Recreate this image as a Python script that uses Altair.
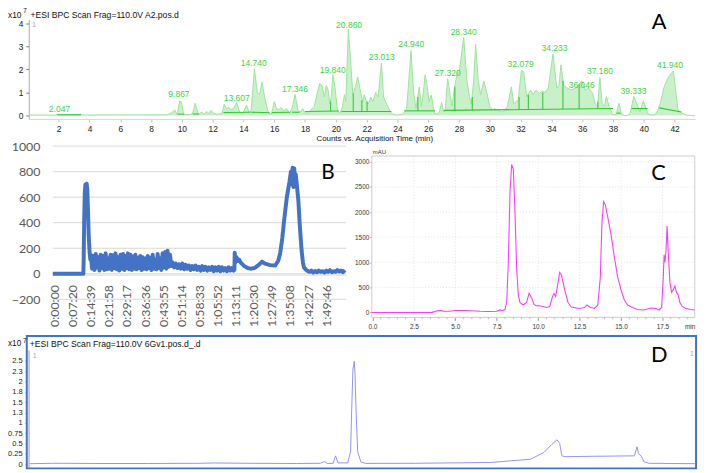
import json
import altair as alt
import pandas as pd

# ---------------- Panel A : ESI BPC chromatogram (x10^7 counts vs min) ----------------
a_points = [
    (0.055, 0.02), (1.8, 0.02), (1.9, 0.03), (3.4, 0.03), (3.5, 0.02), (9.0, 0.03), (9.3, 0.1),
    (9.55, 0.24), (9.65, 0.08), (9.72, 0.15), (9.86, 0.64), (9.97, 0.58), (10.1, 0.1), (10.18, 0.03),
    (10.6, 0.04), (10.75, 0.2), (10.86, 0.53), (10.98, 0.25), (11.1, 0.05), (11.3, 0.15), (11.45, 0.05),
    (11.6, 0.18), (11.75, 0.08), (11.9, 0.22), (12.05, 0.1), (12.3, 0.05), (12.6, 0.08), (12.75, 0.49),
    (12.9, 0.3), (13.05, 0.35), (13.2, 0.25), (13.35, 0.3), (13.56, 0.56), (13.75, 0.15), (13.95, 0.05),
    (14.1, 0.3), (14.2, 0.45), (14.35, 0.15), (14.5, 0.2), (14.71, 2.03), (14.9, 1.0), (15.05, 0.9),
    (15.2, 1.45), (15.4, 0.7), (15.6, 0.15), (15.8, 0.05), (15.9, 0.3), (16.0, 0.6), (16.15, 0.3),
    (16.3, 0.25), (16.45, 0.35), (16.6, 0.2), (16.8, 0.3), (17.0, 0.1), (17.15, 0.3), (17.35, 0.91),
    (17.55, 0.2), (17.7, 0.15), (17.85, 0.3), (18.0, 0.1), (18.2, 0.12), (18.4, 0.25), (18.6, 0.4),
    (18.8, 1.0), (18.95, 1.39), (19.1, 1.3), (19.25, 0.8), (19.38, 1.3), (19.5, 1.1), (19.6, 0.5),
    (19.7, 0.8), (19.81, 1.77), (19.95, 1.2), (20.1, 0.2), (20.25, 0.1), (20.4, 0.3), (20.56, 0.9),
    (20.65, 0.6), (20.81, 3.75), (20.95, 2.5), (21.1, 0.9), (21.25, 1.2), (21.42, 1.67), (21.55, 1.2),
    (21.74, 0.6), (21.85, 0.9), (21.95, 0.7), (22.1, 0.5), (22.27, 0.8), (22.4, 0.6), (22.59, 1.0),
    (22.75, 0.8), (22.96, 2.27), (23.1, 0.8), (23.3, 0.5), (23.55, 0.15), (23.7, 0.05), (24.0, 0.02),
    (24.3, 0.05), (24.45, 0.12), (24.6, 0.3), (24.88, 2.82), (25.05, 1.0), (25.2, 0.3), (25.42, 1.24),
    (25.55, 0.4), (25.65, 0.8), (25.8, 1.77), (25.95, 1.2), (26.05, 0.6), (26.19, 0.89), (26.3, 0.5),
    (26.4, 0.1), (26.6, 0.05), (26.75, 0.2), (26.87, 0.57), (27.0, 0.15), (27.1, 0.2), (27.26, 1.6),
    (27.4, 1.0), (27.55, 0.4), (27.7, 1.2), (27.9, 1.9), (28.0, 1.8), (28.3, 3.39), (28.5, 1.6),
    (28.65, 0.9), (28.8, 0.5), (28.95, 1.5), (29.08, 3.1), (29.25, 1.5), (29.4, 0.9), (29.61, 1.5),
    (29.8, 1.0), (30.0, 0.4), (30.2, 0.25), (30.5, 0.25), (30.8, 0.15), (31.0, 0.25), (31.15, 0.4),
    (31.4, 1.24), (31.55, 0.5), (31.7, 0.6), (31.85, 0.7), (32.05, 1.96), (32.2, 1.9), (32.4, 0.8),
    (32.65, 1.1), (32.8, 0.9), (33.0, 1.1), (33.2, 0.95), (33.4, 1.05), (33.6, 1.0), (33.8, 1.2),
    (34.1, 2.67), (34.35, 1.2), (34.5, 1.3), (34.62, 2.2), (34.8, 1.3), (35.0, 1.2), (35.3, 1.1),
    (35.6, 1.2), (35.97, 1.5), (36.2, 1.1), (36.4, 1.2), (36.67, 0.96), (36.85, 0.5), (37.0, 0.4),
    (37.15, 1.64), (37.3, 0.5), (37.45, 0.4), (37.57, 0.82), (37.75, 0.4), (37.96, 0.05), (38.2, 0.02),
    (38.39, 0.53), (38.55, 0.05), (38.8, -0.02), (39.1, 0.05), (39.35, 0.82), (39.55, 0.5), (39.75, 0.15),
    (39.97, 0.64), (40.15, 0.3), (40.3, 0.05), (40.7, 0.02), (40.9, 0.2), (41.1, 0.6), (41.3, 1.2),
    (41.55, 1.6), (41.75, 1.8), (41.92, 1.93), (42.05, 1.2), (42.2, 0.3), (42.4, 0.1), (42.8, 0.02),
    (43.33, -0.02),
]
a_peak_labels = ["2.047", "9.867", "13.607", "14.740", "17.346", "19.840", "20.860", "23.013", "24.940",
                 "27.320", "28.340", "32.079", "34.233", "36.046", "37.180", "39.333", "41.940"]
a_peak_t = [2.05, 9.81, 13.56, 14.67, 17.35, 19.8, 20.86, 22.98, 24.9, 27.26, 28.3, 32.0, 34.2, 35.97,
            37.15, 39.33, 41.7]
a_peak_v = [0.29, 0.91, 0.77, 2.27, 1.15, 1.98, 3.92, 2.53, 3.08, 1.86, 3.63, 2.24, 2.93, 1.34, 1.92,
            1.06, 2.17]
# integration baselines (t1, v1, t2, v2)
a_baselines = [
    (1.9, 0.03, 3.45, 0.03), (9.7, 0.06, 10.15, 0.05), (10.7, 0.06, 11.1, 0.06), (12.7, 0.13, 14.45, 0.14),
    (14.5, 0.14, 15.7, 0.12), (15.85, 0.13, 17.05, 0.14), (17.15, 0.14, 17.65, 0.14), (18.0, 0.17, 20.2, 0.19),
    (20.35, 0.17, 23.6, 0.17), (24.45, 0.2, 26.45, 0.2), (27.0, 0.22, 38.0, 0.3), (38.25, 0.1, 38.5, 0.1),
    (39.2, 0.3, 40.25, 0.3), (41.0, 0.33, 42.45, 0.15),
]
# peak split (drop) lines (t, bottom, top)
a_drops = [
    (19.66, 0.18, 0.6), (21.13, 0.17, 0.95), (21.69, 0.17, 0.65), (22.03, 0.17, 0.6), (25.33, 0.2, 0.8),
    (27.73, 0.22, 1.25), (28.86, 0.23, 0.8), (30.34, 0.24, 0.3), (30.89, 0.24, 0.25), (31.9, 0.25, 0.8),
    (32.5, 0.25, 0.9), (33.44, 0.26, 1.0), (34.75, 0.27, 1.5), (35.8, 0.28, 1.35), (37.02, 0.29, 0.6),
]
a_xticks = [2, 4, 6, 8, 10, 12, 14, 16, 18, 20, 22, 24, 26, 28, 30, 32, 34, 36, 38, 40, 42]
a_yticks = [0, 1, 2, 3, 4]

# ---------------- Panel B : Excel time trace ----------------
b_spike = [(-41, 0), (700, 0), (708, 120), (720, 420), (735, 640), (750, 700), (765, 680), (780, 705),
           (795, 660), (810, 520), (830, 300), (850, 170), (870, 110)]
b_noise1_start, b_noise1_step = 880, 30
b_noise1 = [150, 40, 140, 30, 155, 50, 130, 25, 150, 45, 140, 30, 160, 35, 120, 40, 150, 30, 145, 45,
            160, 35, 130, 25, 150, 40, 155, 30, 140, 45, 160, 35, 150, 30, 135, 40, 150, 35, 125, 45,
            140, 30, 130, 40, 120, 35, 140, 45, 125, 30, 150, 40, 110, 35, 155, 45, 120, 30, 160, 50,
            170, 40, 180, 55, 150, 60]
b_noise2_start, b_noise2_step = 2860, 40
b_noise2 = [90, 50, 80, 45, 75, 40, 80, 35, 70, 40, 65, 30, 60, 35, 65, 30, 55, 25, 60, 30, 55, 25, 50,
            30, 55, 20, 50, 25, 55, 20, 50, 25, 45, 20, 50, 25, 45, 25]
b_mid = [(4360, 30), (4367, 165), (4385, 90), (4410, 130), (4440, 100), (4472, 112), (4520, 85),
         (4600, 60), (4680, 45), (4750, 40), (4850, 45), (4950, 70), (5030, 95), (5100, 80), (5229, 68),
         (5349, 65), (5420, 100), (5469, 160), (5520, 280), (5565, 420), (5630, 600), (5694, 720),
         (5730, 800), (5750, 700), (5770, 830), (5790, 680), (5810, 825), (5830, 700), (5845, 780),
         (5875, 690), (5910, 570), (5950, 350), (5989, 180), (6020, 90), (6044, 50), (6100, 30), (6149, 20)]
b_noise3_start, b_noise3_step = 6180, 45
b_noise3 = [15, 25, 10, 22, 12, 25, 15, 20, 10, 25, 15, 28, 12, 20, 15, 30, 18, 25, 12, 30]
b_tick_secs = [0, 440, 879, 1318, 1757, 2196, 2635, 3074, 3513, 3952, 4391, 4830, 5269, 5708, 6147, 6586]
b_tick_labels = ["0:00:00", "0:07:20", "0:14:39", "0:21:58", "0:29:17", "0:36:36", "0:43:55", "0:51:14",
                 "0:58:33", "1:05:52", "1:13:11", "1:20:30", "1:27:49", "1:35:08", "1:42:27", "1:49:46"]
b_yticks = [-200, 0, 200, 400, 600, 800, 1000]

# ---------------- Panel C : UV trace (mAU vs min) ----------------
c_points = [
    (-0.04, 0), (3.6, 2), (3.9, 33), (4.1, 40), (4.3, 25), (4.6, 25), (5.0, 40), (5.5, 40), (6.0, 35),
    (6.5, 25), (7.0, 20), (7.5, 25), (7.7, 52), (7.85, 40), (8.0, 60), (8.1, 200), (8.2, 1000), (8.3, 2400),
    (8.4, 2950), (8.5, 2850), (8.6, 2000), (8.7, 900), (8.8, 350), (8.9, 200), (9.1, 150), (9.3, 200),
    (9.45, 380), (9.6, 300), (9.75, 160), (9.9, 130), (10.0, 140), (10.3, 120), (10.5, 100), (10.7, 120),
    (10.85, 300), (10.95, 380), (11.05, 320), (11.15, 500), (11.3, 800), (11.4, 750), (11.6, 450),
    (11.8, 200), (12.0, 110), (12.5, 80), (12.8, 100), (12.95, 150), (13.15, 100), (13.4, 80), (13.6, 150),
    (13.75, 700), (13.85, 1800), (13.95, 2210), (14.05, 2150), (14.2, 1900), (14.4, 1540), (14.6, 1100),
    (14.8, 700), (15.0, 450), (15.2, 250), (15.4, 150), (15.7, 100), (16.0, 60), (16.4, 50), (16.8, 90),
    (17.1, 80), (17.3, 50), (17.45, 100), (17.55, 700), (17.6, 1150), (17.65, 1000), (17.72, 1250),
    (17.78, 1725), (17.85, 1200), (17.95, 600), (18.05, 400), (18.15, 450), (18.25, 530), (18.35, 400),
    (18.45, 350), (18.55, 200), (18.7, 120), (18.9, 80), (19.2, 60), (19.45, 50),
]
c_xticks = [0, 2.5, 5, 7.5, 10, 12.5, 15, 17.5]
c_minor_ticks = [0.5, 1, 1.5, 2, 3, 3.5, 4, 4.5, 5.5, 6, 6.5, 7, 8, 8.5, 9, 9.5, 10.5, 11, 11.5, 12,
                 13, 13.5, 14, 14.5, 15.5, 16, 16.5, 17, 18, 18.5, 19]
c_yticks = [0, 500, 1000, 1500, 2000, 2500, 3000]

# ---------------- Panel D : ESI BPC chromatogram 6Gv1 ----------------
d_points = [
    (0.2, 0.01), (1.73, 0.02), (2.39, 0.02), (4.85, 0.015), (8.18, 0.015), (11.5, 0.02), (12.63, 0.028),
    (14.82, 0.02), (18.15, 0.015), (19.74, 0.02), (20.03, 0.065), (20.2, 0.015), (20.6, 0.02), (20.76, 0.2),
    (20.92, 0.03), (21.58, 0.03), (21.77, 0.3), (21.87, 1.6), (21.93, 2.3), (22.02, 2.49), (22.07, 2.2),
    (22.13, 1.4), (22.25, 0.3), (22.47, 0.05), (22.8, 0.017), (26.12, 0.02), (31.22, 0.04), (33.88, 0.12),
    (34.76, 0.28), (35.31, 0.48), (35.65, 0.59), (35.83, 0.5), (35.98, 0.2), (36.2, 0.18), (38.09, 0.19),
    (40.86, 0.2), (41.03, 0.42), (41.14, 0.25), (41.3, 0.2), (41.52, 0.05), (41.86, 0.02), (44.95, 0.01),
]
d_yticks = [0, 0.25, 0.5, 0.75, 1, 1.25, 1.5, 1.75, 2, 2.25, 2.5]

# ======================================================================
W, H = 700, 465
SANS = "Liberation Sans"
XL = "Lato"


def sc(domain, rng):
    return alt.Scale(domain=domain, range=rng, zero=False, nice=False)


class Panel:
    """Shared scales + axes of one panel; every layer of the panel uses the same definitions."""

    def __init__(self, sx, sy, ax, ay):
        self.sx, self.sy, self.ax, self.ay = sx, sy, ax, ay

    def xy(self, xf="t", yf="v"):
        return dict(x=alt.X(f"{xf}:Q", scale=self.sx, axis=self.ax),
                    y=alt.Y(f"{yf}:Q", scale=self.sy, axis=self.ay))

    def note(self, t, v, label, **props):
        df = pd.DataFrame({"t": [t], "v": [v], "label": [label]})
        return alt.Chart(df).mark_text(**props).encode(text="label:N", **self.xy())


# ---------------- A ----------------
PA = Panel(
    sc([0.055, 43.33], [21, 695]),
    sc([-0.15, 4.163], [109.5, 9]),
    alt.Axis(orient="bottom", offset=-355.5, values=a_xticks, grid=False, domain=True, domainColor="#d6d6d6",
             ticks=True, tickColor="#bdbdbd", tickSize=3, labelFont=SANS, labelFontSize=8.5,
             labelColor="#222222", labelPadding=3, labelOverlap=False, labelFlush=False, title=None),
    alt.Axis(orient="left", offset=-21, values=a_yticks, grid=False, domain=True, domainColor="#aaaaaa",
             ticks=True, tickColor="#777777", tickSize=3, labelFont=SANS, labelFontSize=8.5,
             labelColor="#222222", labelPadding=3, labelOverlap=False, labelFlush=False, title=None),
)
dfA = pd.DataFrame(a_points, columns=["t", "v"])
a_area = alt.Chart(dfA).mark_area(color="#c9f1c9", opacity=1).encode(y2=alt.datum(0), **PA.xy())
a_line = alt.Chart(dfA).mark_line(color="#9fe39f", strokeWidth=1).encode(**PA.xy())
dfAb = pd.DataFrame(a_baselines, columns=["t", "v", "t2", "v2"])
a_base = alt.Chart(dfAb).mark_rule(color="#30c830", strokeWidth=1.1).encode(x2="t2:Q", y2="v2:Q", **PA.xy())
dfAd = pd.DataFrame(a_drops, columns=["t", "v", "v2"])
a_drop = alt.Chart(dfAd).mark_rule(color="#30c030", strokeWidth=1).encode(y2="v2:Q", **PA.xy())
dfAp = pd.DataFrame({"t": a_peak_t, "v": a_peak_v, "label": a_peak_labels})
a_lab = alt.Chart(dfAp).mark_text(font=SANS, fontSize=8.6, color="#3ed43e", baseline="middle").encode(
    text="label:N", **PA.xy())
panelA = alt.layer(
    a_area, a_line, a_base, a_drop, a_lab,
    PA.note(0.164, 4.378, "+ESI BPC Scan Frag=110.0V A2.pos.d", font=SANS, fontSize=8.7,
            color="#111111", align="left", baseline="middle"),
    PA.note(-1.294, 4.378, "x10", font=SANS, fontSize=8.5, color="#111111", align="left", baseline="middle"),
    PA.note(-0.3, 4.52, "7", font=SANS, fontSize=6.5, color="#111111", align="left", baseline="middle"),
    PA.note(0.27, 3.906, "1", font=SANS, fontSize=7.5, color="#aaaaaa", align="left", baseline="middle"),
    PA.note(41.0, 4.06, "A", font=XL, fontSize=22, color="#000000", align="center", baseline="middle"),
    PA.note(22.53, -1.009, "Counts vs. Acquisition Time (min)", font=SANS, fontSize=8,
            color="#111111", align="center", baseline="middle"),
)

# ---------------- B ----------------
b_label_expr = f"{json.dumps(b_tick_labels)}[indexof({json.dumps(b_tick_secs)}, datum.value)]"
PB = Panel(
    sc([-41, 7066], [45.3, 342]),
    sc([-200, 1000], [292, 137]),
    alt.Axis(orient="bottom", offset=-198, values=b_tick_secs, labelExpr=b_label_expr, labelAngle=-90,
             grid=False, domain=True, domainColor="#d9d9d9", ticks=False, tickSize=0, labelFont=XL,
             labelFontSize=12.5, labelColor="#595959", labelPadding=10, labelOverlap=False, labelFlush=False,
             title=None),
    alt.Axis(orient="left", offset=-45.3, values=b_yticks, format="d", grid=False, domain=False, ticks=False,
             tickSize=0, labelFont=XL, labelFontSize=12.5, labelColor="#595959", labelPadding=13,
             labelOverlap=False, labelFlush=False, title=None),
)
b_rows = list(b_spike)
b_rows += [(b_noise1_start + i * b_noise1_step, v) for i, v in enumerate(b_noise1)]
b_rows += [(b_noise2_start + i * b_noise2_step, v) for i, v in enumerate(b_noise2)]
b_rows += list(b_mid)
b_rows += [(b_noise3_start + i * b_noise3_step, v) for i, v in enumerate(b_noise3)]
dfB = pd.DataFrame(b_rows, columns=["t", "v"])
bx0, bx1 = PB.sx.domain
dfBg = pd.DataFrame({"v": b_yticks, "t": [bx0] * len(b_yticks), "t2": [bx1] * len(b_yticks)})
b_grid = alt.Chart(dfBg).mark_rule(color="#d9d9d9", strokeWidth=1).encode(x2="t2:Q", **PB.xy())
b_line = alt.Chart(dfB).mark_line(color="#4472C4", strokeWidth=4, strokeJoin="round").encode(**PB.xy())
panelB = alt.layer(
    b_grid, b_line,
    PB.note(6628, 792, "B", font=XL, fontSize=21, color="#000000", align="center", baseline="middle"),
)

# ---------------- C ----------------
PC = Panel(
    sc([-0.04, 19.45], [368, 694.7]),
    sc([-98, 3118], [310.3, 147]),
    alt.Axis(orient="bottom", offset=-154.7, values=c_xticks, format=".1f", grid=False, domain=False,
             ticks=True, tickColor="#999999", tickSize=3, labelFont=SANS, labelFontSize=6.5,
             labelColor="#333333", labelPadding=3, labelOverlap=False, labelFlush=False, title=None),
    alt.Axis(orient="left", offset=-368, values=c_yticks, format="d", grid=False, domain=False,
             ticks=True, tickColor="#999999", tickSize=2, labelFont=SANS, labelFontSize=6.5,
             labelColor="#333333", labelPadding=1, labelOverlap=False, labelFlush=False, title=None),
)
cx0, cx1 = PC.sx.domain
cy0, cy1 = PC.sy.domain
dfC = pd.DataFrame(c_points, columns=["t", "v"])
dfCbox = pd.DataFrame({"t": [cx0], "t2": [cx1], "v": [cy0], "v2": [cy1]})
c_box = alt.Chart(dfCbox).mark_rect(fill="white", stroke="#cccccc", strokeWidth=1).encode(
    x2="t2:Q", y2="v2:Q", **PC.xy())
dfCv = pd.DataFrame({"t": c_xticks[1:], "v": [cy0] * (len(c_xticks) - 1), "v2": [cy1] * (len(c_xticks) - 1)})
c_vgrid = alt.Chart(dfCv).mark_rule(color="#dddddd", strokeWidth=0.8, strokeDash=[1, 2]).encode(
    y2="v2:Q", **PC.xy())
dfCh = pd.DataFrame({"v": c_yticks[1:], "t": [cx0] * (len(c_yticks) - 1), "t2": [cx1] * (len(c_yticks) - 1)})
c_hgrid = alt.Chart(dfCh).mark_rule(color="#dddddd", strokeWidth=0.8, strokeDash=[1, 2]).encode(
    x2="t2:Q", **PC.xy())
dfCm = pd.DataFrame({"t": c_minor_ticks, "v": [cy0] * len(c_minor_ticks),
                     "v2": [cy0 - 35] * len(c_minor_ticks)})
c_minor = alt.Chart(dfCm).mark_rule(color="#aaaaaa", strokeWidth=0.8).encode(y2="v2:Q", **PC.xy())
c_line = alt.Chart(dfC).mark_line(color="#f640f6", strokeWidth=1.1).encode(**PC.xy())
panelC = alt.layer(
    c_box, c_vgrid, c_hgrid, c_minor, c_line,
    PC.note(17.26, 2773, "C", font=XL, fontSize=22, color="#000000", align="center", baseline="middle"),
    PC.note(0.02, 3197, "mAU", font=SANS, fontSize=6, color="#333333", align="left", baseline="middle"),
    PC.note(19.17, -284, "min", font=SANS, fontSize=6.5, color="#333333", align="center", baseline="middle"),
)

# ---------------- D ----------------
PD = Panel(
    sc([0, 45], [19, 696]),
    sc([-0.103, 3.106], [463, 329]),
    None,
    alt.Axis(orient="left", offset=-21.3, values=d_yticks, format="~g", grid=False, domain=False,
             ticks=True, tickColor="#666666", tickSize=4, labelFont=SANS, labelFontSize=7.6,
             labelColor="#222222", labelPadding=3, labelOverlap=False, labelFlush=False, title=None),
)
dx0, dx1 = PD.sx.domain
dy0, dy1 = PD.sy.domain
dfD = pd.DataFrame(d_points, columns=["t", "v"])
dfDbox = pd.DataFrame({"t": [dx0], "t2": [dx1], "v": [dy0], "v2": [dy1]})
d_box = alt.Chart(dfDbox).mark_rect(fill="white", stroke="#4472C4", strokeWidth=2).encode(
    x2="t2:Q", y2="v2:Q", **PD.xy())
dfDax = pd.DataFrame({"t": [0.153], "v": [dy0], "v2": [2.75]})
d_axis = alt.Chart(dfDax).mark_rule(color="#9a9a9a", strokeWidth=1).encode(y2="v2:Q", **PD.xy())
d_line = alt.Chart(dfD).mark_line(color="#9494f2", strokeWidth=1).encode(**PD.xy())
panelD = alt.layer(
    d_box, d_axis, d_line,
    PD.note(42.52, 2.644, "D", font=XL, fontSize=22, color="#000000", align="center", baseline="middle"),
    PD.note(0.2, 2.914, "+ESI BPC Scan Frag=110.0V 6Gv1.pos.d_.d", font=SANS, fontSize=8.7,
            color="#111111", align="left", baseline="middle"),
    PD.note(-1.263, 2.914, "x10", font=SANS, fontSize=8.3, color="#111111", align="left", baseline="middle"),
    PD.note(-0.25, 2.99, "7", font=SANS, fontSize=6.5, color="#111111", align="left", baseline="middle"),
    PD.note(0.4, 2.627, "1", font=SANS, fontSize=7, color="#aaaaaa", align="left", baseline="middle"),
    PD.note(44.73, 2.675, "1", font=SANS, fontSize=7, color="#aaaaaa", align="center", baseline="middle"),
)

chart = alt.layer(panelA, panelB, panelC, panelD).resolve_scale(
    x="independent", y="independent"
).resolve_axis(
    x="independent", y="independent"
).properties(
    width=W, height=H, autosize=alt.AutoSizeParams(type="none"), padding=0, background="white"
).configure_view(stroke=None)

chart.save("out.html", embed_options={"renderer": "svg", "actions": False})
